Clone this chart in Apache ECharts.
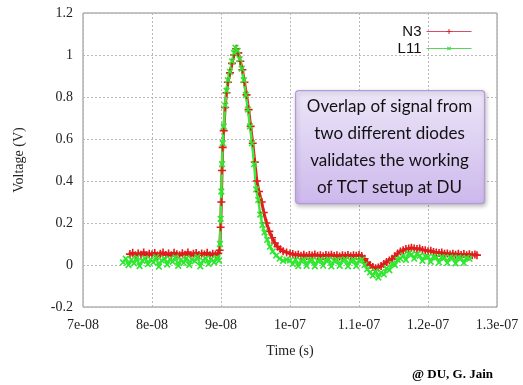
<!DOCTYPE html>
<html>
<head>
<meta charset="utf-8">
<script src="https://cdn.jsdelivr.net/npm/echarts@6/dist/echarts.min.js"></script>
<style>
html,body{margin:0;padding:0;background:#fff;}
#chart{width:523px;height:385px;}
</style>
</head>
<body>
<div id="chart"></div>
<script>
// Time values in ns (axis shows seconds)
var xTicks = [70, 80, 90, 100, 110, 120, 130];
var xTickLabels = ['7e-08', '8e-08', '9e-08', '1e-07', '1.1e-07', '1.2e-07', '1.3e-07'];
var yTickLabels = ['-0.2', '0', '0.2', '0.4', '0.6', '0.8', '1', '1.2'];
var seriesNames = ['N3', 'L11'];

var n3Time = [76.8,77.2,77.6,78.0,78.4,78.8,79.2,79.6,80.0,80.4,80.8,81.2,81.6,82.0,82.4,82.8,83.2,83.6,84.0,84.4,84.8,85.2,85.6,86.0,86.4,86.8,87.2,87.6,88.0,88.4,88.8,89.2,89.6,
  89.8,89.95,90.05,90.15,90.25,90.4,90.6,90.8,91.0,91.3,91.6,91.9,92.2,92.5,92.8,93.1,93.4,93.7,94.0,94.3,94.6,94.9,95.2,95.5,95.9,96.2,96.6,97.0,97.4,97.8,98.2,98.6,99.0,99.5,100.0,
  100.4,100.8,101.2,101.6,102.0,102.4,102.8,103.2,103.6,104.0,104.4,104.8,105.2,105.6,106.0,106.4,106.8,107.2,107.6,108.0,108.4,108.8,109.2,109.6,110.0,110.4,
  110.8,111.2,111.6,112.0,112.4,112.8,113.2,113.6,114.0,114.4,114.8,115.2,115.6,116.0,116.4,116.8,117.2,117.6,118.0,118.4,118.8,119.2,119.6,120.0,120.4,120.8,121.2,121.6,122.0,122.4,122.8,123.2,123.6,124.0,124.4,124.8,125.2,125.6,126.0,126.4,126.8,127.1];
var n3Volt = [0.052,0.058,0.046,0.055,0.049,0.060,0.047,0.054,0.050,0.057,0.045,0.053,0.059,0.048,0.055,0.046,0.058,0.051,0.047,0.056,0.049,0.060,0.046,0.053,0.057,0.048,0.055,0.050,0.058,0.046,0.054,0.049,0.056,
  0.07,0.18,0.30,0.45,0.56,0.64,0.75,0.82,0.87,0.915,0.96,1.0,1.03,1.01,0.97,0.93,0.87,0.81,0.74,0.66,0.58,0.49,0.40,0.35,0.30,0.25,0.20,0.16,0.13,0.105,0.087,0.075,0.066,0.060,0.055,
  0.052,0.047,0.050,0.044,0.049,0.043,0.048,0.045,0.050,0.044,0.047,0.042,0.048,0.045,0.049,0.043,0.046,0.041,0.047,0.044,0.048,0.042,0.046,0.044,0.048,0.043,
  0.030,0.012,0.000,-0.010,-0.015,-0.012,-0.005,0.005,0.014,0.022,0.030,0.042,0.055,0.064,0.070,0.076,0.078,0.082,0.079,0.076,0.078,0.072,0.070,0.066,0.068,0.062,0.060,0.057,0.059,0.053,0.055,0.050,0.054,0.049,0.053,0.048,0.052,0.047,0.051,0.046,0.050,0.047];

var l11Time = [75.8,76.2,76.6,77.0,77.4,77.8,78.2,78.6,79.0,79.4,79.8,80.2,80.6,81.0,81.4,81.8,82.2,82.6,83.0,83.4,83.8,84.2,84.6,85.0,85.4,85.8,86.2,86.6,87.0,87.4,87.8,88.2,88.6,89.0,89.4,89.7,
  89.85,89.95,90.05,90.15,90.25,90.4,90.6,90.8,91.0,91.3,91.6,91.9,92.1,92.4,92.7,93.0,93.3,93.6,93.9,94.2,94.5,94.8,95.1,95.4,95.7,96.0,96.3,96.7,97.1,97.5,98.0,98.5,99.0,99.5,
  100.0,100.4,100.8,101.2,101.6,102.0,102.4,102.8,103.2,103.6,104.0,104.4,104.8,105.2,105.6,106.0,106.4,106.8,107.2,107.6,108.0,108.4,108.8,109.2,109.6,110.0,110.4,110.8,
  111.2,111.6,112.0,112.4,112.8,113.2,113.6,114.0,114.4,114.8,115.2,115.6,116.0,116.4,116.8,117.2,117.6,118.0,118.4,118.8,119.2,119.6,120.0,120.4,120.8,121.2,121.6,122.0,122.4,122.8,123.2,123.6,124.0,124.4,124.8,125.2,125.6,126.0];
var l11Volt = [0.012,0.030,0.000,0.025,0.008,0.035,-0.005,0.020,0.032,0.004,0.026,0.012,0.038,-0.008,0.022,0.030,0.002,0.028,0.015,0.036,-0.004,0.024,0.010,0.033,0.000,0.027,0.018,0.039,-0.006,0.021,0.031,0.005,0.029,0.012,0.034,0.020,
  0.10,0.22,0.35,0.48,0.58,0.66,0.76,0.83,0.88,0.92,0.97,1.01,1.035,1.02,0.98,0.935,0.88,0.81,0.74,0.66,0.58,0.48,0.36,0.31,0.24,0.19,0.155,0.12,0.087,0.065,0.045,0.030,0.020,0.025,
  0.022,0.005,0.025,-0.005,0.020,0.026,-0.004,0.021,0.024,-0.006,0.020,0.025,-0.003,0.022,0.026,-0.007,0.019,0.024,-0.004,0.022,0.027,-0.006,0.020,0.025,-0.005,0.021,0.026,0.000,
  -0.020,-0.035,-0.050,-0.030,-0.060,-0.035,-0.045,-0.015,-0.025,0.005,0.000,0.025,0.030,0.045,0.025,0.055,0.050,0.030,0.052,0.044,0.020,0.042,0.038,0.015,0.040,0.036,0.012,0.038,0.034,0.010,0.036,0.033,0.008,0.035,0.032,0.010,0.034,0.030];

var noteLines = ['Overlap of signal from', 'two different diodes', 'validates the working', 'of TCT setup at DU'];

function pairs(t, v) { return t.map(function (x, i) { return [x, v[i]]; }); }

var plusPath = 'path://M4,0h2v10h-2zM0,4h10v2h-10z';
var serif = 'Liberation Serif';

var chart = echarts.init(document.getElementById('chart'), null, {renderer: 'canvas'});

var graphics = [
  {
    type: 'rect', left: 295, top: 90, z: 100,
    shape: {width: 189, height: 113, r: 3},
    style: {
      fill: new echarts.graphic.LinearGradient(0, 0, 0, 1, [
        {offset: 0, color: '#ece6f8'}, {offset: 1, color: '#cdb8ec'}
      ]),
      stroke: '#b49ad8', lineWidth: 1.2,
      shadowBlur: 4, shadowColor: 'rgba(0,0,0,0.25)', shadowOffsetX: 1, shadowOffsetY: 2
    }
  },
  {
    type: 'text', right: 30, top: 368, z: 100,
    style: {text: '@ DU, G. Jain', font: 'bold 13px "Liberation Serif"', fill: '#000'}
  }
];
noteLines.forEach(function (s, i) {
  graphics.push({
    type: 'text', x: 389.5, y: 107 + i * 26.7, z: 101,
    style: {text: s, font: '17px Lato', fill: '#111', align: 'center', verticalAlign: 'middle'}
  });
});

var legendBase = {right: 46, align: 'right', itemWidth: 45, itemHeight: 6,
  lineStyle: {width: 1},
  textStyle: {fontFamily: 'Liberation Sans', fontSize: 15, color: '#111'}};

var option = {
  animation: false,
  backgroundColor: '#fff',
  grid: {left: 83, right: 26, top: 13, bottom: 78, show: true, borderColor: '#8a8a8a', borderWidth: 1},
  legend: [
    Object.assign({data: [{name: seriesNames[0], lineStyle: {color: '#d4506a', width: 1}}], top: 19}, legendBase),
    Object.assign({data: [{name: seriesNames[1], lineStyle: {color: '#5ed25e', width: 1}}], top: 36}, legendBase)
  ],
  xAxis: {
    type: 'value', min: xTicks[0], max: xTicks[xTicks.length - 1], interval: 10,
    name: 'Time (s)', nameLocation: 'middle', nameGap: 37,
    nameTextStyle: {fontFamily: serif, fontSize: 14, color: '#222'},
    axisLine: {show: false}, axisTick: {show: false},
    axisLabel: {fontFamily: serif, fontSize: 14, color: '#222', margin: 11,
      formatter: function (v) { var i = xTicks.indexOf(Math.round(v)); return i >= 0 ? xTickLabels[i] : ''; }},
    splitLine: {show: true, lineStyle: {color: '#b8b8b8', type: [2, 2], width: 1}}
  },
  yAxis: {
    type: 'value', min: -0.2, max: 1.2, interval: 0.2,
    name: 'Voltage (V)', nameLocation: 'middle', nameGap: 57, nameRotate: 90,
    nameTextStyle: {fontFamily: serif, fontSize: 14, color: '#222'},
    axisLine: {show: false}, axisTick: {show: false},
    axisLabel: {fontFamily: serif, fontSize: 14, color: '#222', margin: 10,
      formatter: function (v) { return yTickLabels[Math.round((v + 0.2) / 0.2)]; }},
    splitLine: {show: true, lineStyle: {color: '#b8b8b8', type: [2, 2], width: 1}}
  },
  series: [
    {
      name: seriesNames[0], type: 'line', data: pairs(n3Time, n3Volt),
      symbol: plusPath, symbolSize: 8, showAllSymbol: true,
      lineStyle: {color: '#e8201c', width: 3},
      itemStyle: {color: '#e01c1c'}
    },
    {
      name: seriesNames[1], type: 'line', data: pairs(l11Time, l11Volt),
      symbol: plusPath, symbolSize: 8, symbolRotate: 45, showAllSymbol: true,
      lineStyle: {color: '#3ee83e', width: 2.5},
      itemStyle: {color: '#2ee82e'}
    }
  ],
  graphic: graphics
};
chart.setOption(option);
</script>
</body>
</html>
